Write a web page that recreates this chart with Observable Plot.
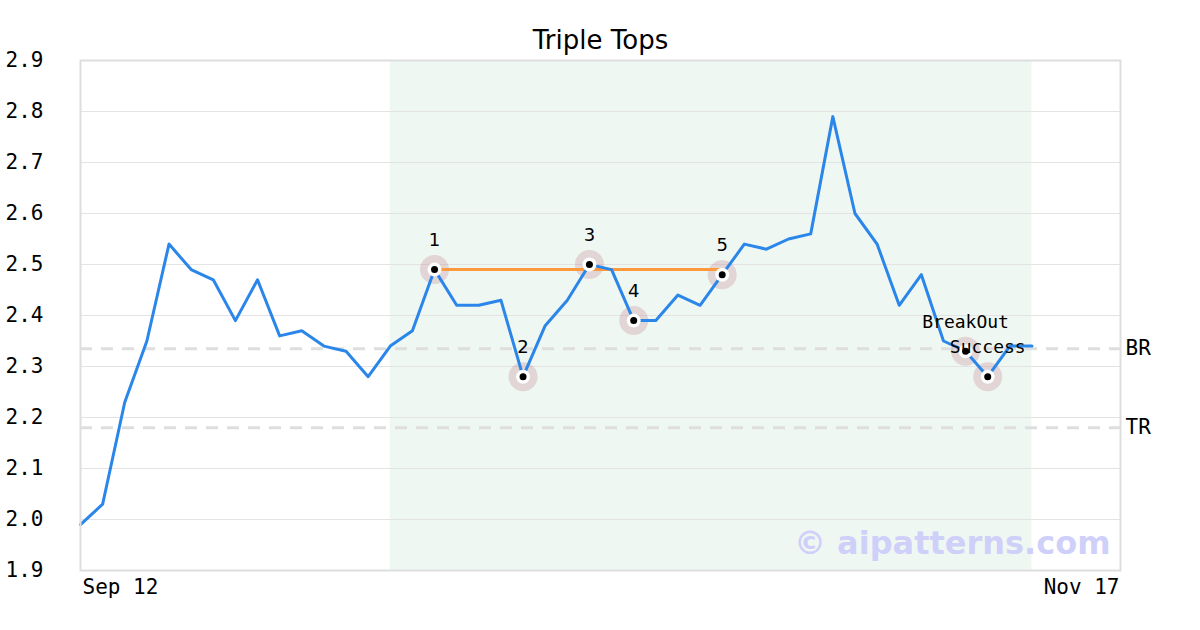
<!DOCTYPE html>
<html>
<head>
<meta charset="utf-8">
<script src="https://cdn.jsdelivr.net/npm/d3@7"></script>
<script src="https://cdn.jsdelivr.net/npm/@observablehq/plot@0.6"></script>
<style>
  html, body { margin: 0; padding: 0; background: #fff; }
</style>
</head>
<body>
<div id="chart"></div>
<script>
const title = "Triple Tops";
const values = [1.99,2.03,2.23,2.35,2.54,2.49,2.47,2.39,2.47,2.36,2.37,2.34,2.33,2.28,2.34,2.37,2.49,2.42,2.42,2.43,2.28,2.38,2.43,2.50,2.49,2.39,2.39,2.44,2.42,2.48,2.54,2.53,2.55,2.56,2.79,2.60,2.54,2.42,2.48,2.35,2.33,2.28,2.34,2.34];
const xTickPos = [0, 47];
const xTickLabels = ["Sep 12", "Nov 17"];
const yTicks = [1.9,2.0,2.1,2.2,2.3,2.4,2.5,2.6,2.7,2.8,2.9];
const patternIdx = [16, 20, 23, 25, 29];
const patternLabels = ["1", "2", "3", "4", "5"];
const breakIdx = [40, 41];
const breakLabels = ["BreakOut", "Success"];
const levelNames = ["BR", "TR"];
const levelValues = [2.335, 2.18];
const shadeStart = 14, shadeEnd = 43;
const neckStart = 16, neckEnd = 29, neckValue = 2.49;
const watermark = "© aipatterns.com";

const series = values.map((v, i) => ({i, v}));
const pattern = patternIdx.map((i, k) => ({i, v: values[i], label: patternLabels[k]}));
const breaks = breakIdx.map((i, k) => ({i, v: values[i], label: breakLabels[k]}));
const levels = levelNames.map((n, k) => ({n, v: levelValues[k]}));
const marked = pattern.concat(breaks);

const mono = "DejaVu Sans Mono";
const sans = "DejaVu Sans";

const chart = Plot.plot({
  width: 1200,
  height: 630,
  marginLeft: 80,
  marginRight: 80,
  marginTop: 60,
  marginBottom: 60,
  style: {fontFamily: mono, fontSize: "21px", color: "#000", background: "#fff"},
  x: {domain: [0, 47], label: null},
  y: {domain: [1.9, 2.9], label: null},
  marks: [
    Plot.rect([{x1: shadeStart, x2: shadeEnd}], {x1: "x1", x2: "x2", y1: 1.9, y2: 2.9, fill: "#eff7f3"}),
    Plot.gridY(yTicks, {stroke: "#e3e3e3", strokeOpacity: 1, strokeWidth: 1}),
    Plot.ruleY(levels, {y: "v", stroke: "#dedede", strokeWidth: 3, strokeDasharray: "12,9"}),
    Plot.text(levels, {x: 47, y: "v", text: "n", dx: 5, textAnchor: "start", fontFamily: mono, fontSize: 21, fill: "#000"}),
    Plot.axisY({ticks: yTicks, label: null, tickSize: 0, tickPadding: 37, tickFormat: d3.format(".1f"), fontFamily: mono, fontSize: 21, fill: "#000"}),
    Plot.axisX({ticks: [xTickPos[0]], label: null, tickSize: 0, tickPadding: 9, dx: 2, tickFormat: () => xTickLabels[0], textAnchor: "start", fontFamily: mono, fontSize: 21, fill: "#000"}),
    Plot.axisX({ticks: [xTickPos[1]], label: null, tickSize: 0, tickPadding: 9, dx: -1, tickFormat: () => xTickLabels[1], textAnchor: "end", fontFamily: mono, fontSize: 21, fill: "#000"}),
    Plot.dot(marked, {x: "i", y: "v", r: 14.5, fill: "rgb(170,80,100)", fillOpacity: 0.2, stroke: "none"}),
    Plot.ruleY([{v: neckValue}], {y: "v", x1: neckStart, x2: neckEnd, stroke: "#ff9a3c", strokeWidth: 3}),
    Plot.line(series, {x: "i", y: "v", stroke: "#2b86e9", strokeWidth: 3}),
    Plot.dot(marked, {x: "i", y: "v", r: 7, fill: "#fff", stroke: "none"}),
    Plot.dot(marked, {x: "i", y: "v", r: 3.5, fill: "#000", stroke: "none"}),
    Plot.text(pattern, {x: "i", y: "v", text: "label", dy: -29, fontFamily: sans, fontSize: 18, fill: "#000"}),
    Plot.text(breaks, {x: "i", y: "v", text: "label", dy: -29, fontFamily: mono, fontSize: 18, fill: "#000"}),
    Plot.frame({stroke: "#dedede", strokeWidth: 2}),
    Plot.text([title], {frameAnchor: "top", lineAnchor: "middle", dy: -20, fontFamily: sans, fontSize: 26, fill: "#000"}),
    Plot.text([watermark], {frameAnchor: "bottom-right", lineAnchor: "middle", dx: -10, dy: -27, textAnchor: "end", fontFamily: sans, fontWeight: "bold", fontSize: 32, fill: "#cfd0f9"})
  ]
});
document.getElementById("chart").appendChild(chart);
</script>
</body>
</html>
